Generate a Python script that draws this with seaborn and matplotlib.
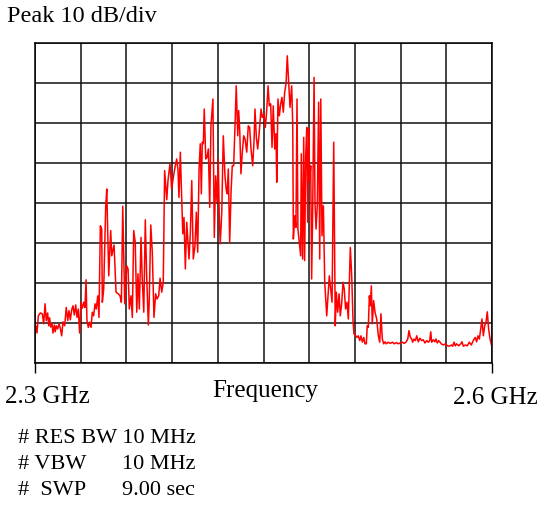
import numpy as np
import pandas as pd
import matplotlib
matplotlib.use("Agg")
from matplotlib import pyplot as plt
import seaborn as sns

# frequency offset from 2.3 GHz (MHz) and level above bottom graticule line (dB)
offset_mhz = [
    0.0, 0.5, 1.3, 2.2, 3.5, 4.8, 5.7, 6.6, 7.4, 8.3, 9.0, 9.6, 10.3, 11.2, 11.8, 12.7,
    13.3, 14.0, 14.9, 15.8, 16.6, 17.5, 18.4, 19.5, 20.5, 21.5, 22.3, 23.2, 24.1, 24.9,
    25.8, 26.7, 27.6, 28.4, 29.3, 30.2, 31.1, 32.0, 32.8, 33.5, 34.1, 35.0, 35.9, 36.8,
    37.6, 38.5, 39.4, 40.2, 41.2, 42.0, 42.9, 43.8, 44.2, 45.1, 45.8, 46.4, 47.1, 48.4,
    49.7, 50.4, 51.9, 53.2, 54.7, 55.8, 56.7, 57.6, 58.9, 60.2, 61.1, 61.9, 63.0, 63.9,
    64.8, 65.8, 66.8, 67.6, 68.5, 69.6, 70.4, 71.4, 72.4, 73.3, 74.4, 75.0, 76.0, 77.0,
    78.1, 79.2, 80.1, 81.2, 82.1, 83.2, 84.2, 85.1, 86.5, 87.3, 88.6, 89.7, 90.8, 91.9,
    93.0, 93.9, 94.5, 95.4, 96.3, 97.0, 97.8, 98.7, 99.6, 100.4, 101.1, 102.0, 102.9,
    103.9, 105.0, 105.9, 106.8, 107.7, 108.5, 109.2, 109.8, 110.5, 111.1, 112.1, 112.9,
    113.8, 114.7, 115.5, 116.8, 117.7, 118.6, 119.5, 120.3, 121.0, 121.6, 122.6, 123.6,
    124.7, 125.6, 126.2, 126.9, 127.8, 128.7, 129.5, 130.4, 131.3, 132.1, 133.1, 133.7,
    134.4, 135.2, 136.1, 137.0, 137.9, 139.0, 140.0, 140.9, 141.8, 142.9, 143.8, 144.4,
    145.3, 146.2, 147.0, 148.4, 149.2, 150.3, 151.2, 152.1, 153.0, 153.8, 154.7, 155.6,
    156.4, 157.4, 158.2, 158.7, 159.5, 160.4, 161.3, 162.1, 163.0, 163.9, 164.8, 165.6,
    166.5, 167.4, 168.5, 169.2, 169.6, 170.5, 171.3, 172.0, 172.6, 173.5, 174.4, 174.8,
    175.7, 176.4, 177.0, 177.7, 178.4, 179.0, 179.7, 180.3, 181.0, 181.6, 182.3, 183.2,
    183.8, 184.5, 185.3, 186.2, 186.9, 187.6, 188.4, 189.3, 190.2, 191.5, 193.2, 195.0,
    196.1, 197.1, 197.8, 198.7, 199.6, 200.4, 201.3, 202.2, 203.0, 203.9, 204.8, 205.7,
    207.0, 207.9, 208.8, 209.4, 210.5, 211.4, 212.2, 213.2, 214.0, 214.9, 215.8, 216.6,
    217.5, 218.1, 218.8, 219.5, 220.1, 220.8, 221.4, 222.3, 223.2, 224.3, 225.4, 226.3,
    227.1, 228.0, 228.9, 229.8, 230.6, 231.9, 233.2, 234.6, 235.9, 237.2, 238.5, 239.8,
    241.1, 242.4, 243.7, 244.7, 245.5, 246.4, 247.3, 247.9, 248.8, 249.7, 250.6, 251.6,
    252.7, 253.9, 254.9, 256.0, 257.1, 258.2, 259.1, 259.8, 260.4, 261.5, 262.4, 263.2,
    264.1, 265.0, 265.9, 266.7, 268.0, 269.4, 270.7, 272.0, 273.3, 274.2, 275.1, 275.9,
    276.8, 278.1, 279.5, 280.3, 281.2, 282.5, 283.8, 285.1, 286.4, 287.7, 289.0, 289.9,
    290.8, 291.7, 292.6, 293.4, 294.3, 295.2, 296.1, 296.9, 297.8, 298.7, 299.8,
]
level_db = [
    8.5, 9.3, 7.5, 11.8, 12.5, 12.3, 9.8, 14.8, 10.6, 12.5, 9.3, 11.3, 9.0, 9.8, 7.5, 9.5,
    7.8, 9.3, 8.5, 9.8, 8.7, 6.8, 10.3, 9.3, 13.9, 10.6, 13.1, 10.8, 13.3, 14.3,
    12.0, 14.5, 11.4, 13.5, 7.5, 15.2, 13.7, 15.2, 13.9, 20.8, 10.6, 8.9, 10.2, 8.9,
    12.7, 11.8, 14.8, 13.5, 16.8, 11.4, 34.3, 33.5, 15.2, 18.5, 29.3, 39.0, 43.5, 21.8,
    33.1, 26.8, 29.5, 17.7, 17.3, 16.8, 15.2, 39.2, 14.8, 24.3, 23.5, 13.5, 16.8, 11.4,
    33.1, 30.2, 12.7, 22.3, 13.5, 31.4, 21.0, 12.7, 35.8, 21.8, 9.5, 15.6, 34.5, 27.7,
    11.4, 17.3, 16.0, 16.8, 21.2, 17.7, 20.2, 48.1, 40.8, 45.6, 49.8, 43.5, 46.4, 48.9,
    51.0, 48.1, 41.4, 52.7, 41.4, 32.3, 36.4, 23.5, 35.2, 30.2, 26.0, 32.7, 45.6,
    26.0, 29.3, 37.7, 27.7, 48.5, 54.8, 42.3, 55.2, 54.8, 63.5, 51.0, 51.4,
    53.5, 38.9, 59.3, 66.0, 31.4, 46.8, 40.2, 51.0, 36.0, 29.8, 37.7, 56.8,
    46.8, 43.1, 42.3, 48.5, 30.2, 42.7, 49.3, 49.3, 59.3, 69.3, 56.8, 63.1,
    58.1, 47.3, 52.7, 56.8, 56.0, 52.7, 59.3, 58.9, 53.5, 49.3, 55.6, 63.5,
    56.4, 53.5, 56.8, 63.5, 61.4, 62.3, 58.9, 63.1, 69.3, 64.3, 64.8, 53.9,
    64.3, 53.5, 57.3, 45.2, 66.0, 61.8, 64.8, 66.4, 62.7, 67.7, 69.8, 76.8,
    70.2, 63.9, 69.3, 59.3, 31.0, 36.8, 33.9, 66.0, 33.5, 30.2, 26.8, 52.3,
    26.0, 56.4, 25.6, 51.8, 58.9, 35.2, 58.5, 45.6, 49.3, 21.0, 38.5, 71.4,
    40.2, 33.5, 39.3, 65.2, 26.0, 66.0, 31.8, 39.3, 20.2, 11.8, 21.8, 15.2,
    55.2, 9.3, 17.7, 12.7, 17.3, 11.8, 14.8, 20.2, 18.5, 13.5, 15.2, 11.0,
    28.9, 21.8, 10.2, 7.3, 6.8, 6.4, 6.8, 5.6, 6.8, 5.2, 6.4, 4.8,
    4.8, 9.3, 8.9, 16.8, 14.3, 19.3, 9.8, 15.6, 12.7, 11.0, 6.8, 5.2,
    12.3, 6.0, 4.8, 5.3, 4.8, 5.2, 4.9, 5.2, 4.8, 5.1, 4.8, 5.0,
    5.2, 4.9, 5.3, 6.0, 8.1, 6.4, 6.0, 5.2, 6.0, 5.6, 6.8, 5.3,
    6.2, 5.6, 5.8, 5.0, 5.6, 5.2, 5.6, 7.8, 5.2, 5.8, 5.3, 6.0,
    5.0, 5.6, 5.2, 4.8, 4.5, 4.8, 4.3, 4.2, 4.5, 4.2, 5.2, 4.3,
    4.8, 4.3, 4.8, 5.3, 4.2, 4.5, 4.3, 5.2, 4.5, 5.6, 6.4, 5.3,
    6.8, 6.0, 8.5, 11.0, 6.8, 9.3, 10.2, 12.8, 8.5, 6.0, 4.3,
]

f_start, f_stop = 2.3, 2.6
n_xdiv, n_ydiv, db_per_div = 10, 8, 10

df = pd.DataFrame({"freq": f_start + np.array(offset_mhz) / 1000.0, "level": level_db})

sns.set_theme(style="white")
plt.rcParams["font.family"] = ["Liberation Serif", "DejaVu Serif"]
plt.rcParams["text.color"] = "black"

fig = plt.figure(figsize=(5.42, 5.06), dpi=100)
ax = fig.add_axes([35 / 542, 142 / 506, 457 / 542, 320 / 506])

sns.lineplot(data=df, x="freq", y="level", color="red", linewidth=1.1,
             estimator=None, sort=False, ax=ax)

ax.set_xlim(f_start, f_stop)
ax.set_ylim(0, n_ydiv * db_per_div)
ax.set_xticks([f_start, f_stop])
ax.set_xticks(np.linspace(f_start, f_stop, n_xdiv + 1), minor=True)
ax.set_yticks(np.arange(0, n_ydiv * db_per_div + 1, db_per_div))
ax.tick_params(axis="x", which="major", length=7, width=1, color="black",
               direction="out", bottom=True, labelbottom=False)
ax.tick_params(axis="x", which="minor", length=0)
ax.tick_params(axis="y", length=0, labelleft=False)
ax.grid(True, which="both", color="#111111", linewidth=1.1)
ax.set_axisbelow(True)
for sp in ax.spines.values():
    sp.set_color("black")
    sp.set_linewidth(1.1)
ax.set_xlabel("")
ax.set_ylabel("")

fig.text(7 / 542, 1 - 17 / 506, "Peak 10 dB/div", fontsize=17.5, va="center", ha="left")
fig.text(5 / 542, 1 - 397 / 506, "2.3 GHz", fontsize=18, va="center", ha="left")
fig.text(265 / 542, 1 - 391 / 506, "Frequency", fontsize=18, va="center", ha="center")
fig.text(538 / 542, 1 - 398 / 506, "2.6 GHz", fontsize=18, va="center", ha="right")

fig.text(18 / 542, 1 - 439 / 506, "# RES BW 10 MHz", fontsize=16, va="center", ha="left")
fig.text(18 / 542, 1 - 465 / 506, "# VBW", fontsize=16, va="center", ha="left")
fig.text(122 / 542, 1 - 465 / 506, "10 MHz", fontsize=16, va="center", ha="left")
fig.text(18 / 542, 1 - 491 / 506, "#  SWP", fontsize=16, va="center", ha="left")
fig.text(122 / 542, 1 - 491 / 506, "9.00 sec", fontsize=16, va="center", ha="left")

fig.savefig("out.png", dpi=100)
